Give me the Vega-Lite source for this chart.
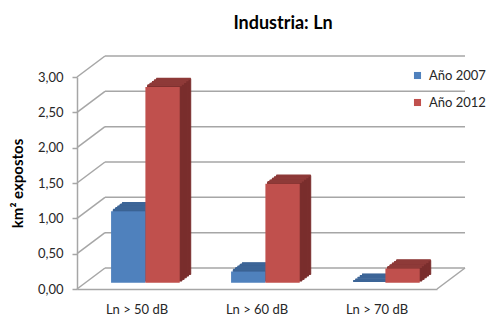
{
  "$schema": "https://vega.github.io/schema/vega-lite/v6.json",
  "width": 360,
  "height": 212,
  "autosize": {"type": "none"},
  "padding": {"left": 77, "top": 77, "right": 54, "bottom": 31},
  "background": "white",
  "title": {"text": "Industria: Ln", "fontSize": 18, "font": "Lato", "fontWeight": "bold", "color": "#000000", "anchor": "middle", "frame": "group", "offset": 30, "dx": 26, "dy": 55, "baseline": "alphabetic"},
  "config": {
    "view": {"stroke": null},
    "font": "Lato",
    "axisY": {"domainColor": "#a6a6a6", "domainWidth": 1.5, "tickColor": "#a6a6a6", "tickWidth": 1.5, "tickSize": 5, "labelFontSize": 13, "labelColor": "#262626", "labelPadding": 9, "titleFontSize": 15, "titleFontWeight": "bold", "titleColor": "#000000", "titlePadding": 12},
    "axisX": {"domainColor": "#a6a6a6", "domainWidth": 1.5, "ticks": false, "labelFontSize": 13, "labelColor": "#262626", "labelPadding": 14, "labelAngle": 0}
  },
  "resolve": {"scale": {"x": "independent"}},
  "data": {"values": [
    {"nivel": "Ln > 50 dB", "serie": "Año 2007", "km2": 1.01},
    {"nivel": "Ln > 50 dB", "serie": "Año 2012", "km2": 2.77},
    {"nivel": "Ln > 60 dB", "serie": "Año 2007", "km2": 0.16},
    {"nivel": "Ln > 60 dB", "serie": "Año 2012", "km2": 1.40},
    {"nivel": "Ln > 70 dB", "serie": "Año 2007", "km2": 0.0},
    {"nivel": "Ln > 70 dB", "serie": "Año 2012", "km2": 0.20}
  ]},
  "layer": [
    {
      "data": {"values": [{"tick": 0}, {"tick": 0.5}, {"tick": 1}, {"tick": 1.5}, {"tick": 2}, {"tick": 2.5}, {"tick": 3}]},
      "mark": {"type": "rule", "color": "#a6a6a6", "strokeWidth": 1.5, "xOffset": 28, "x2Offset": 28, "yOffset": -21, "y2Offset": -21},
      "encoding": {
        "x": {"value": 0},
        "x2": {"value": "width"},
        "y": {"field": "tick", "type": "quantitative", "title": "km² expostos", "scale": {"domain": [0, 3], "nice": false}, "axis": {"title": "km² expostos", "tickCount": 6, "grid": false, "labelExpr": "replace(format(datum.value,'.2f'),'.',',')"}}
      }
    },
    {
      "data": {"values": [{"tick": 0}, {"tick": 0.5}, {"tick": 1}, {"tick": 1.5}, {"tick": 2}, {"tick": 2.5}, {"tick": 3}]},
      "mark": {"type": "rule", "color": "#a6a6a6", "strokeWidth": 1.5, "x2Offset": 28, "y2Offset": -21},
      "encoding": {
        "x": {"value": 0},
        "x2": {"value": 0},
        "y": {"field": "tick", "type": "quantitative", "title": "km² expostos", "axis": {"title": "km² expostos", "tickCount": 6, "grid": false, "labelExpr": "replace(format(datum.value,'.2f'),'.',',')"}},
        "y2": {"field": "tick"}
      }
    },
    {
      "data": {"values": [{"tick": 0}]},
      "mark": {"type": "rule", "color": "#a6a6a6", "strokeWidth": 1.5, "x2Offset": 28, "y2Offset": -21},
      "encoding": {
        "x": {"value": "width"},
        "x2": {"value": "width"},
        "y": {"field": "tick", "type": "quantitative", "title": "km² expostos", "axis": {"title": "km² expostos", "tickCount": 6, "grid": false, "labelExpr": "replace(format(datum.value,'.2f'),'.',',')"}},
        "y2": {"field": "tick"}
      }
    },
    {
      "mark": {"type": "bar", "opacity": 0},
      "encoding": {
        "x": {"field": "nivel", "type": "nominal", "title": null, "sort": ["Ln > 50 dB", "Ln > 60 dB", "Ln > 70 dB"], "scale": {"paddingInner": 0.428, "paddingOuter": 0.214}},
        "y": {"field": "km2", "type": "quantitative", "title": "km² expostos", "axis": {"title": "km² expostos", "tickCount": 6, "grid": false, "labelExpr": "replace(format(datum.value,'.2f'),'.',',')"}}
      }
    },
    {
      "mark": {"type": "bar", "yOffset": -14.55, "y2Offset": -14.55, "strokeWidth": 1},
      "encoding": {
        "x": {"field": "nivel", "type": "nominal", "sort": ["Ln > 50 dB", "Ln > 60 dB", "Ln > 70 dB"], "scale": {"range": [19.4, 379.4], "paddingInner": 0.428, "paddingOuter": 0.214}, "axis": null},
        "xOffset": {"field": "serie", "type": "nominal", "scale": {"paddingInner": 0, "paddingOuter": 0}},
        "y": {"field": "km2", "type": "quantitative", "title": "km² expostos", "axis": {"title": "km² expostos", "tickCount": 6, "grid": false, "labelExpr": "replace(format(datum.value,'.2f'),'.',',')"}},
        "color": {"condition": {"test": "datum.serie === 'Año 2007'", "value": "#36598a"}, "value": "#7a2e2d"},
        "stroke": {"condition": {"test": "datum.serie === 'Año 2007'", "value": "#36598a"}, "value": "#7a2e2d"}
      }
    },
    {
      "mark": {"type": "bar", "yOffset": -12.9, "y2Offset": -12.9, "strokeWidth": 1},
      "encoding": {
        "x": {"field": "nivel", "type": "nominal", "sort": ["Ln > 50 dB", "Ln > 60 dB", "Ln > 70 dB"], "scale": {"range": [17.2, 377.2], "paddingInner": 0.428, "paddingOuter": 0.214}, "axis": null},
        "xOffset": {"field": "serie", "type": "nominal", "scale": {"paddingInner": 0, "paddingOuter": 0}},
        "y": {"field": "km2", "type": "quantitative", "title": "km² expostos", "axis": {"title": "km² expostos", "tickCount": 6, "grid": false, "labelExpr": "replace(format(datum.value,'.2f'),'.',',')"}},
        "color": {"condition": {"test": "datum.serie === 'Año 2007'", "value": "#36598a"}, "value": "#7a2e2d"},
        "stroke": {"condition": {"test": "datum.serie === 'Año 2007'", "value": "#36598a"}, "value": "#7a2e2d"}
      }
    },
    {
      "mark": {"type": "bar", "yOffset": -11.25, "y2Offset": -11.25, "strokeWidth": 1},
      "encoding": {
        "x": {"field": "nivel", "type": "nominal", "sort": ["Ln > 50 dB", "Ln > 60 dB", "Ln > 70 dB"], "scale": {"range": [15.0, 375.0], "paddingInner": 0.428, "paddingOuter": 0.214}, "axis": null},
        "xOffset": {"field": "serie", "type": "nominal", "scale": {"paddingInner": 0, "paddingOuter": 0}},
        "y": {"field": "km2", "type": "quantitative", "title": "km² expostos", "axis": {"title": "km² expostos", "tickCount": 6, "grid": false, "labelExpr": "replace(format(datum.value,'.2f'),'.',',')"}},
        "color": {"condition": {"test": "datum.serie === 'Año 2007'", "value": "#36598a"}, "value": "#7a2e2d"},
        "stroke": {"condition": {"test": "datum.serie === 'Año 2007'", "value": "#36598a"}, "value": "#7a2e2d"}
      }
    },
    {
      "mark": {"type": "bar", "yOffset": -9.6, "y2Offset": -9.6, "strokeWidth": 1},
      "encoding": {
        "x": {"field": "nivel", "type": "nominal", "sort": ["Ln > 50 dB", "Ln > 60 dB", "Ln > 70 dB"], "scale": {"range": [12.8, 372.8], "paddingInner": 0.428, "paddingOuter": 0.214}, "axis": null},
        "xOffset": {"field": "serie", "type": "nominal", "scale": {"paddingInner": 0, "paddingOuter": 0}},
        "y": {"field": "km2", "type": "quantitative", "title": "km² expostos", "axis": {"title": "km² expostos", "tickCount": 6, "grid": false, "labelExpr": "replace(format(datum.value,'.2f'),'.',',')"}},
        "color": {"condition": {"test": "datum.serie === 'Año 2007'", "value": "#36598a"}, "value": "#7a2e2d"},
        "stroke": {"condition": {"test": "datum.serie === 'Año 2007'", "value": "#36598a"}, "value": "#7a2e2d"}
      }
    },
    {
      "mark": {"type": "bar", "yOffset": -7.95, "y2Offset": -7.95, "strokeWidth": 1},
      "encoding": {
        "x": {"field": "nivel", "type": "nominal", "sort": ["Ln > 50 dB", "Ln > 60 dB", "Ln > 70 dB"], "scale": {"range": [10.6, 370.6], "paddingInner": 0.428, "paddingOuter": 0.214}, "axis": null},
        "xOffset": {"field": "serie", "type": "nominal", "scale": {"paddingInner": 0, "paddingOuter": 0}},
        "y": {"field": "km2", "type": "quantitative", "title": "km² expostos", "axis": {"title": "km² expostos", "tickCount": 6, "grid": false, "labelExpr": "replace(format(datum.value,'.2f'),'.',',')"}},
        "color": {"condition": {"test": "datum.serie === 'Año 2007'", "value": "#36598a"}, "value": "#7a2e2d"},
        "stroke": {"condition": {"test": "datum.serie === 'Año 2007'", "value": "#36598a"}, "value": "#7a2e2d"}
      }
    },
    {
      "mark": {"type": "bar", "yOffset": -14.55, "y2Offset": -14.55, "strokeWidth": 2, "fillOpacity": 0},
      "encoding": {
        "x": {"field": "nivel", "type": "nominal", "sort": ["Ln > 50 dB", "Ln > 60 dB", "Ln > 70 dB"], "scale": {"range": [19.4, 379.4], "paddingInner": 0.428, "paddingOuter": 0.214}, "axis": null},
        "xOffset": {"field": "serie", "type": "nominal", "scale": {"paddingInner": 0, "paddingOuter": 0}},
        "y": {"field": "km2", "type": "quantitative", "title": "km² expostos", "axis": {"title": "km² expostos", "tickCount": 6, "grid": false, "labelExpr": "replace(format(datum.value,'.2f'),'.',',')"}},
        "y2": {"field": "km2"},
        "stroke": {"condition": {"test": "datum.serie === 'Año 2007'", "value": "#3c6597"}, "value": "#8e3a38"}
      }
    },
    {
      "mark": {"type": "bar", "yOffset": -12.9, "y2Offset": -12.9, "strokeWidth": 2, "fillOpacity": 0},
      "encoding": {
        "x": {"field": "nivel", "type": "nominal", "sort": ["Ln > 50 dB", "Ln > 60 dB", "Ln > 70 dB"], "scale": {"range": [17.2, 377.2], "paddingInner": 0.428, "paddingOuter": 0.214}, "axis": null},
        "xOffset": {"field": "serie", "type": "nominal", "scale": {"paddingInner": 0, "paddingOuter": 0}},
        "y": {"field": "km2", "type": "quantitative", "title": "km² expostos", "axis": {"title": "km² expostos", "tickCount": 6, "grid": false, "labelExpr": "replace(format(datum.value,'.2f'),'.',',')"}},
        "y2": {"field": "km2"},
        "stroke": {"condition": {"test": "datum.serie === 'Año 2007'", "value": "#3c6597"}, "value": "#8e3a38"}
      }
    },
    {
      "mark": {"type": "bar", "yOffset": -11.25, "y2Offset": -11.25, "strokeWidth": 2, "fillOpacity": 0},
      "encoding": {
        "x": {"field": "nivel", "type": "nominal", "sort": ["Ln > 50 dB", "Ln > 60 dB", "Ln > 70 dB"], "scale": {"range": [15.0, 375.0], "paddingInner": 0.428, "paddingOuter": 0.214}, "axis": null},
        "xOffset": {"field": "serie", "type": "nominal", "scale": {"paddingInner": 0, "paddingOuter": 0}},
        "y": {"field": "km2", "type": "quantitative", "title": "km² expostos", "axis": {"title": "km² expostos", "tickCount": 6, "grid": false, "labelExpr": "replace(format(datum.value,'.2f'),'.',',')"}},
        "y2": {"field": "km2"},
        "stroke": {"condition": {"test": "datum.serie === 'Año 2007'", "value": "#3c6597"}, "value": "#8e3a38"}
      }
    },
    {
      "mark": {"type": "bar", "yOffset": -9.6, "y2Offset": -9.6, "strokeWidth": 2, "fillOpacity": 0},
      "encoding": {
        "x": {"field": "nivel", "type": "nominal", "sort": ["Ln > 50 dB", "Ln > 60 dB", "Ln > 70 dB"], "scale": {"range": [12.8, 372.8], "paddingInner": 0.428, "paddingOuter": 0.214}, "axis": null},
        "xOffset": {"field": "serie", "type": "nominal", "scale": {"paddingInner": 0, "paddingOuter": 0}},
        "y": {"field": "km2", "type": "quantitative", "title": "km² expostos", "axis": {"title": "km² expostos", "tickCount": 6, "grid": false, "labelExpr": "replace(format(datum.value,'.2f'),'.',',')"}},
        "y2": {"field": "km2"},
        "stroke": {"condition": {"test": "datum.serie === 'Año 2007'", "value": "#3c6597"}, "value": "#8e3a38"}
      }
    },
    {
      "mark": {"type": "bar", "yOffset": -7.95, "y2Offset": -7.95, "strokeWidth": 2, "fillOpacity": 0},
      "encoding": {
        "x": {"field": "nivel", "type": "nominal", "sort": ["Ln > 50 dB", "Ln > 60 dB", "Ln > 70 dB"], "scale": {"range": [10.6, 370.6], "paddingInner": 0.428, "paddingOuter": 0.214}, "axis": null},
        "xOffset": {"field": "serie", "type": "nominal", "scale": {"paddingInner": 0, "paddingOuter": 0}},
        "y": {"field": "km2", "type": "quantitative", "title": "km² expostos", "axis": {"title": "km² expostos", "tickCount": 6, "grid": false, "labelExpr": "replace(format(datum.value,'.2f'),'.',',')"}},
        "y2": {"field": "km2"},
        "stroke": {"condition": {"test": "datum.serie === 'Año 2007'", "value": "#3c6597"}, "value": "#8e3a38"}
      }
    },
    {
      "mark": {"type": "bar", "yOffset": -6.3, "y2Offset": -6.3},
      "encoding": {
        "x": {"field": "nivel", "type": "nominal", "sort": ["Ln > 50 dB", "Ln > 60 dB", "Ln > 70 dB"], "scale": {"range": [8.4, 368.4], "paddingInner": 0.428, "paddingOuter": 0.214}, "axis": null},
        "xOffset": {"field": "serie", "type": "nominal", "scale": {"paddingInner": 0, "paddingOuter": 0}},
        "y": {"field": "km2", "type": "quantitative", "title": "km² expostos", "axis": {"title": "km² expostos", "tickCount": 6, "grid": false, "labelExpr": "replace(format(datum.value,'.2f'),'.',',')"}},
        "color": {"field": "serie", "type": "nominal", "scale": {"domain": ["Año 2007", "Año 2012"], "range": ["#4f81bd", "#c0504d"]}, "legend": {"orient": "none", "legendX": 334, "legendY": -8, "title": null, "symbolType": "square", "symbolSize": 50, "symbolStrokeWidth": 0, "labelFontSize": 13, "labelColor": "#262626", "rowPadding": 13, "labelOffset": 5}}
      }
    }
  ]
}
